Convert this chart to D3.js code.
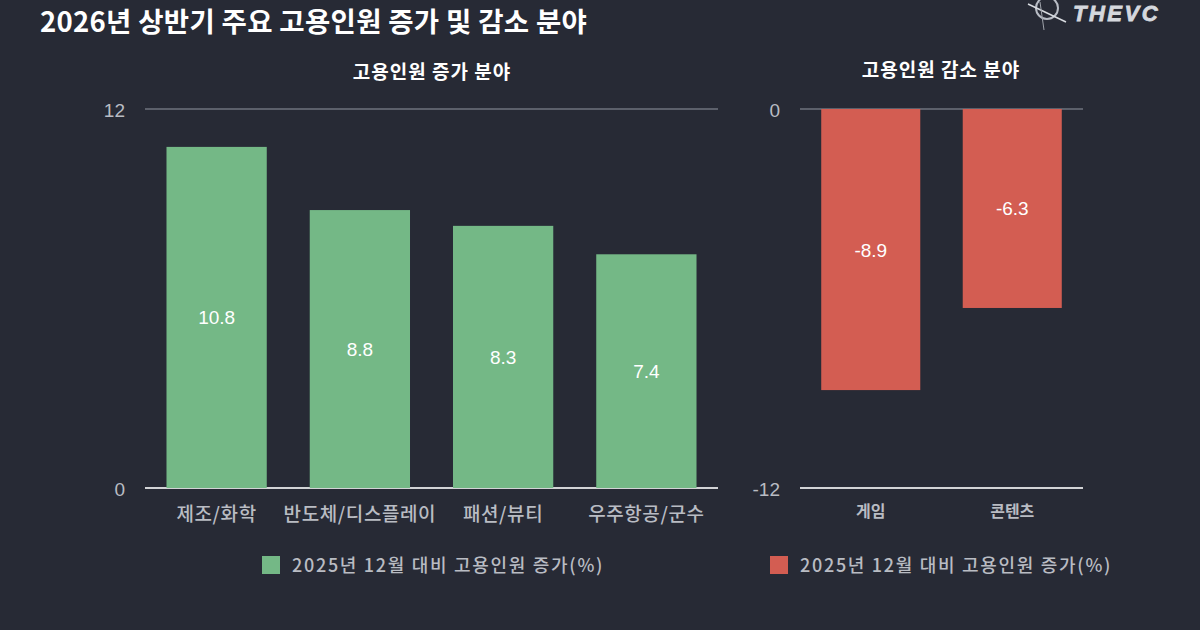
<!DOCTYPE html>
<html><head><meta charset="utf-8">
<script src="https://cdn.jsdelivr.net/npm/d3@7"></script>
<style>
html,body{margin:0;padding:0;background:#272a35;}
svg{display:block;font-family:"Noto Sans CJK KR","Noto Sans",sans-serif;}
</style></head>
<body>
<svg id="c" width="1200" height="630"></svg>
<script>
const title = "2026년 상반기 주요 고용인원 증가 및 감소 분야";
const incCategories = ["제조/화학","반도체/디스플레이","패션/뷰티","우주항공/군수"];
const incValues = [10.8, 8.8, 8.3, 7.4];
const incTicks = [0, 12];
const decCategories = ["게임","콘텐츠"];
const decValues = [-8.9, -6.3];
const decTicks = [-12, 0];
const incTitle = "고용인원 증가 분야";
const decTitle = "고용인원 감소 분야";
const legendLabel = "2025년 12월 대비 고용인원 증가(%)";

const svg = d3.select("#c");
svg.append("rect").attr("width",1200).attr("height",630).attr("fill","#272a35");

svg.append("text").attr("x",40).attr("y",32).attr("fill","#ffffff")
  .attr("font-size",27.5).attr("font-weight",700).attr("letter-spacing",0.3).text(title);

// logo
const lg = svg.append("g");
lg.append("circle").attr("cx",1047).attr("cy",8).attr("r",11).attr("fill","none").attr("stroke","#b8bcc5").attr("stroke-width",2);
lg.append("line").attr("x1",1028).attr("y1",4).attr("x2",1066).attr("y2",22).attr("stroke","#d8dbe0").attr("stroke-width",1.5);
lg.append("line").attr("x1",1040).attr("y1",2).attr("x2",1044).attr("y2",30).attr("stroke","#9ea2aa").attr("stroke-width",1);
lg.append("text").attr("x",1073).attr("y",21).attr("fill","#d5d8de").attr("font-size",22)
  .attr("font-weight",900).attr("font-style","italic").attr("letter-spacing",2.5)
  .attr("stroke","#d5d8de").attr("stroke-width",0.8)
  .attr("font-family","Liberation Sans, sans-serif").text("THEVC");

const yTop = 109, yBot = 488;
const GREEN = "#74b886", RED = "#d35d52";
const LABEL = "#b9bcc3";

function panel(cats, vals, domain, ticks, x0, x1, color, ptitle, tcx, tcy, labelY, labelSize, labelWeight, labelLs) {
  const x = d3.scaleBand().domain(cats).range([x0,x1]).paddingInner(0.3).paddingOuter(0.15);
  const y = d3.scaleLinear().domain(domain).range([yBot,yTop]);
  svg.append("text").attr("x",tcx).attr("y",tcy).attr("text-anchor","middle").attr("fill","#ffffff")
    .attr("font-size",19).attr("font-weight",700).attr("letter-spacing",1).text(ptitle);
  svg.append("g").selectAll("line").data(ticks).join("line")
    .attr("x1",x0).attr("x2",x1).attr("y1",d=>y(d)).attr("y2",d=>y(d))
    .attr("stroke",d=>y(d)===yBot ? "#d2d3d6" : "#5c606b").attr("stroke-width",2);
  svg.append("g").selectAll("text").data(ticks).join("text")
    .attr("x",x0-20).attr("y",d=>y(d)+8).attr("text-anchor","end").attr("fill",LABEL)
    .attr("font-size",19).attr("font-family","Liberation Sans, Arial, sans-serif").text(d=>d);
  svg.append("g").selectAll("rect").data(vals).join("rect")
    .attr("x",(d,i)=>x(cats[i])).attr("width",x.bandwidth())
    .attr("y",d=>Math.min(y(d),y(0))).attr("height",d=>Math.abs(y(d)-y(0)))
    .attr("fill",color);
  svg.append("g").selectAll("text").data(vals).join("text")
    .attr("x",(d,i)=>x(cats[i])+x.bandwidth()/2).attr("y",d=>(y(d)+y(0))/2+7)
    .attr("text-anchor","middle").attr("fill","#ffffff").attr("font-size",19)
    .attr("font-family","Liberation Sans, Arial, sans-serif").text(d=>d);
  svg.append("g").selectAll("text").data(cats).join("text")
    .attr("x",d=>x(d)+x.bandwidth()/2).attr("y",labelY).attr("text-anchor","middle")
    .attr("fill",LABEL).attr("font-size",labelSize).attr("font-weight",labelWeight)
    .attr("letter-spacing",labelLs).text(d=>d);
}
panel(incCategories, incValues, [0,12], incTicks, 145, 718, GREEN, incTitle, 432, 79, 521, 19, 500, 0.6);
panel(decCategories, decValues, [-12,0], decTicks, 800, 1083, RED, decTitle, 941, 77, 517, 16, 700, 0);

function legend(xs, color) {
  svg.append("rect").attr("x",xs).attr("y",556).attr("width",18).attr("height",18).attr("fill",color);
  svg.append("text").attr("x",xs+30).attr("y",572).attr("fill",LABEL).attr("font-size",18)
    .attr("font-weight",500).attr("letter-spacing",1.7).text(legendLabel);
}
legend(262, GREEN);
legend(770, RED);
</script>
</body></html>
